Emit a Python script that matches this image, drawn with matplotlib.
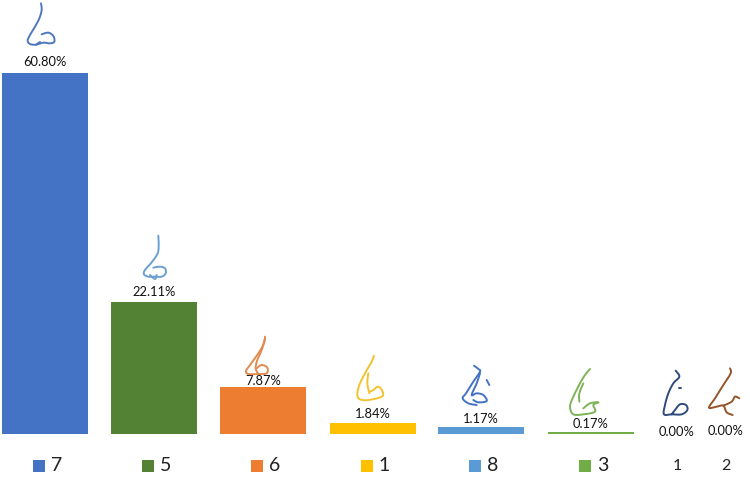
import numpy as np
import matplotlib
matplotlib.use('Agg')
import matplotlib.pyplot as plt

plt.rcParams['font.family'] = ['Lato', 'DejaVu Sans']

categories = ['7', '5', '6', '1', '8', '3', '1', '2']
values = [60.80, 22.11, 7.87, 1.84, 1.17, 0.17, 0.00, 0.00]
value_labels = ['60.80%', '22.11%', '7.87%', '1.84%', '1.17%', '0.17%', '0.00%', '0.00%']
bar_colors = ['#4472C4', '#548235', '#ED7D31', '#FFC000', '#5B9BD5', '#70AD47', '#264478', '#843C0C']
nose_colors = ['#4F78BE', '#6A9FD2', '#E08B50', '#F2C331', '#4472C4', '#7FB35A', '#2F4A7D', '#94552A']

# pixel centre of each category, last two are squeezed together
centers = [45, 154, 263, 372.5, 481, 591, 677, 726]
# gap between bar top and label centre, in pixels
label_gap = [11, 10.5, 6, 9, 7.5, 8.5, 1.5, 2.5]
has_swatch = [True, True, True, True, True, True, False, False]

# nose sketches, traced in zoom crop coords (3x) with the crop origin
noses = [
    ((0, 0), [[(123,10),(125,30),(118,55),(105,80),(90,105),(83,122),(90,132),(108,134),(130,128),(150,130),(163,125),(160,108),(145,98),(125,103)],
              [(108,134),(120,126)]]),
    ((110, 225), [[(145,32),(146,60),(143,85),(125,112),(105,135),(102,148),(115,155),(135,155),(155,155),(167,145),(165,130),(150,125),(130,128)],
                  [(120,150),(135,162),(140,150)]]),
    ((110, 225), [[(465,335),(462,355),(445,385),(420,420),(408,438),(415,447),(445,447),(470,445),(472,428),(455,420),(440,430)],
                  [(465,340),(455,375),(442,405),(437,430),(445,447)]]),
    ((340, 345), [[(102,32),(95,50),(75,85),(58,120),(52,150),(60,163),(85,165),(125,155),(128,140),(115,125),(100,135),(90,140)],
                  [(85,85),(82,115),(88,145)]]),
    ((340, 345), [[(402,62),(415,72),(420,80),(400,110),(378,145),(368,160),(385,175),(410,180)],
                  [(420,85),(410,115),(395,150),(410,145),(430,150),(440,168),(415,172),(400,165)],
                  [(440,105),(448,120)]]),
    ((540, 355), [[(150,42),(135,60),(120,85),(100,125),(90,155),(100,178),(130,178),(165,170),(160,150),(175,142),(150,145),(130,160)],
                  [(130,85),(118,115),(118,140)]]),
    ((540, 355), [[(407,47),(418,65),(400,85),(385,115),(375,150),(372,178),(395,178),(425,178),(442,165),(438,150),(420,148),(405,165),(395,178)],
                  [(418,100),(423,100)]]),
    ((540, 355), [[(570,40),(572,55),(550,90),(525,130),(507,158),(530,155),(550,152),(560,172),(578,180)],
                  [(550,152),(575,140),(585,125),(598,130)]]),
]

W, H = 750, 478
BASE = 433.5
PX_PER_PCT = 5.93


def smooth(pts, n=8):
    # catmull-rom through the traced points, only so the sketches are not angular
    if len(pts) < 3:
        return pts
    p = np.vstack([pts[0], pts, pts[-1]])
    out = []
    t = np.linspace(0, 1, n, endpoint=False)[:, None]
    for i in range(1, len(p) - 2):
        a, b, c, d = p[i - 1], p[i], p[i + 1], p[i + 2]
        out.append(0.5 * (2 * b + (c - a) * t + (2 * a - 5 * b + 4 * c - d) * t ** 2
                          + (3 * b - a - 3 * c + d) * t ** 3))
    out.append(p[-1:])
    return np.vstack(out)


fig = plt.figure(figsize=(W / 100, H / 100), dpi=100)
ax = fig.add_axes([0, (H - BASE) / H, 1, BASE / H])
ax.set_xlim(0, W)
ax.set_ylim(0, BASE / PX_PER_PCT)
ax.set_axis_off()

# the last two are 0.00 so they draw nothing
ax.bar(centers, values, width=86, color=bar_colors, linewidth=0)

for i in range(len(values)):
    ax.annotate(value_labels[i], (centers[i], values[i]), xytext=(0, label_gap[i] * 0.72),
                textcoords='offset points', ha='center', va='center', fontsize=9.3,
                color='#111111', annotation_clip=False)

# legend row under the bars
trans = ax.get_xaxis_transform()
legend_y = -(465.5 - BASE) / BASE
for i in range(len(categories)):
    if has_swatch[i]:
        ax.plot([centers[i] - 6], [legend_y], marker='s', ms=8.6, color=bar_colors[i], mew=0,
                transform=trans, clip_on=False)
        ax.text(centers[i] + 6, legend_y, categories[i], transform=trans, ha='left', va='center',
                fontsize=14, color='#222222')
    else:
        ax.text(centers[i], legend_y, categories[i], transform=trans, ha='center', va='center',
                fontsize=11.5, color='#222222')

# noses go on top in plain pixel coords
over = fig.add_axes([0, 0, 1, 1])
over.set_xlim(0, W)
over.set_ylim(H, 0)
over.set_axis_off()
over.patch.set_alpha(0)
for i, (origin, strokes) in enumerate(noses):
    for s in strokes:
        pts = smooth(np.array(s, dtype=float) / 3 + origin)
        over.plot(pts[:, 0], pts[:, 1], color=nose_colors[i], lw=1.4,
                  solid_capstyle='round', solid_joinstyle='round')

fig.savefig('out.png', dpi=100)
